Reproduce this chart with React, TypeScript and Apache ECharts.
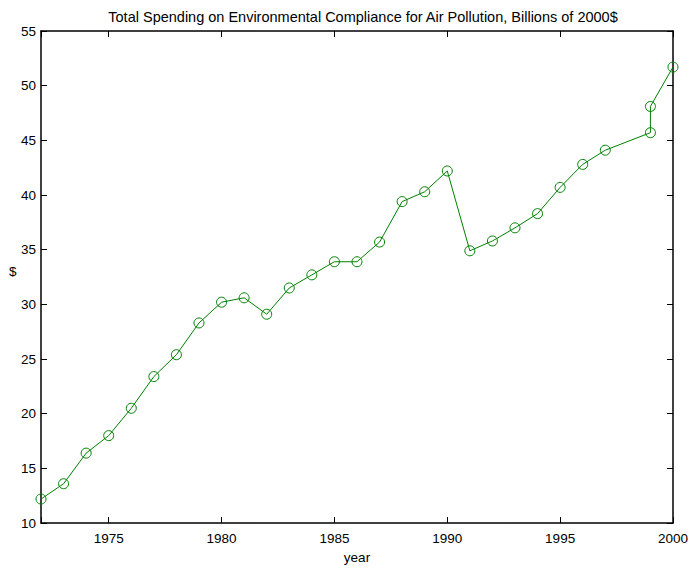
import React, { useEffect, useRef } from "react";
import * as echarts from "echarts";

// Annual spending (billions of 2000 dollars); 1999 has two reported figures
const years = [
  1972, 1973, 1974, 1975, 1976, 1977, 1978, 1979, 1980, 1981, 1982, 1983, 1984,
  1985, 1986, 1987, 1988, 1989, 1990, 1991, 1992, 1993, 1994, 1995, 1996, 1997,
  1999, 1999, 2000,
];
const spending = [
  12.2, 13.6, 16.4, 18.0, 20.5, 23.4, 25.4, 28.3, 30.2, 30.6, 29.1, 31.5, 32.7,
  33.9, 33.9, 35.7, 39.4, 40.3, 42.2, 34.9, 35.8, 37.0, 38.3, 40.7, 42.8, 44.1,
  45.7, 48.1, 51.7,
];

const TITLE =
  "Total Spending on Environmental Compliance for Air Pollution, Billions of 2000$";
const FONT = "Liberation Sans, Arial, Helvetica, sans-serif";
const GREEN = "#008000";

export default function App() {
  const ref = useRef<HTMLDivElement>(null);

  useEffect(() => {
    if (!ref.current) return;
    const chart = echarts.init(ref.current, undefined, { renderer: "svg" });
    const points = years.map((y, i) => [y, spending[i]]);

    const tickStyle = {
      show: true,
      inside: true,
      length: 6,
      lineStyle: { color: "#000", width: 1 },
    };
    const lineStyle = { show: true, lineStyle: { color: "#000", width: 1.5 } };

    chart.setOption({
      animation: false,
      backgroundColor: "#fff",
      textStyle: { fontFamily: FONT },
      title: {
        text: TITLE,
        left: 358,
        top: 4,
        textAlign: "center",
        textStyle: { fontFamily: FONT, fontSize: 14.5, fontWeight: "normal", color: "#000" },
      },
      grid: { left: 41, right: 16, top: 31, bottom: 41, containLabel: false },
      xAxis: [
        {
          type: "value",
          min: 1972,
          max: 2000,
          minInterval: 5,
          maxInterval: 5,
          position: "bottom",
          name: "year",
          nameLocation: "middle",
          nameGap: 23,
          nameTextStyle: { fontFamily: FONT, fontSize: 13.5, color: "#000" },
          axisLine: lineStyle,
          axisTick: tickStyle,
          splitLine: { show: false },
          axisLabel: {
            fontFamily: FONT,
            fontSize: 13.5,
            color: "#000",
            margin: 8,
            formatter: (v: number) => (v % 5 === 0 ? String(v) : ""),
          },
        },
        {
          type: "value",
          min: 1972,
          max: 2000,
          minInterval: 5,
          maxInterval: 5,
          position: "top",
          axisLine: lineStyle,
          axisTick: tickStyle,
          splitLine: { show: false },
          axisLabel: { show: false },
        },
      ],
      yAxis: [
        {
          type: "value",
          min: 10,
          max: 55,
          interval: 5,
          position: "left",
          axisLine: lineStyle,
          axisTick: tickStyle,
          splitLine: { show: false },
          axisLabel: { fontFamily: FONT, fontSize: 13.5, color: "#000", margin: 5 },
        },
        {
          type: "value",
          min: 10,
          max: 55,
          interval: 5,
          position: "right",
          axisLine: lineStyle,
          axisTick: tickStyle,
          splitLine: { show: false },
          axisLabel: { show: false },
        },
      ],
      graphic: [
        {
          type: "text",
          left: 9,
          top: 264,
          style: { text: "$", fontFamily: FONT, fontSize: 13.5, fill: "#000" },
        },
      ],
      series: [
        {
          type: "line",
          data: points,
          xAxisIndex: 0,
          yAxisIndex: 0,
          symbol: "circle",
          symbolSize: 10,
          showAllSymbol: true,
          lineStyle: { color: GREEN, width: 1 },
          itemStyle: { color: "rgba(0,0,0,0)", borderColor: GREEN, borderWidth: 1 },
          emphasis: { disabled: true },
          clip: false,
        },
      ],
    });

    return () => chart.dispose();
  }, []);

  return (
    <div
      ref={ref}
      style={{ position: "absolute", left: 0, top: 0, width: 691, height: 569 }}
    />
  );
}
